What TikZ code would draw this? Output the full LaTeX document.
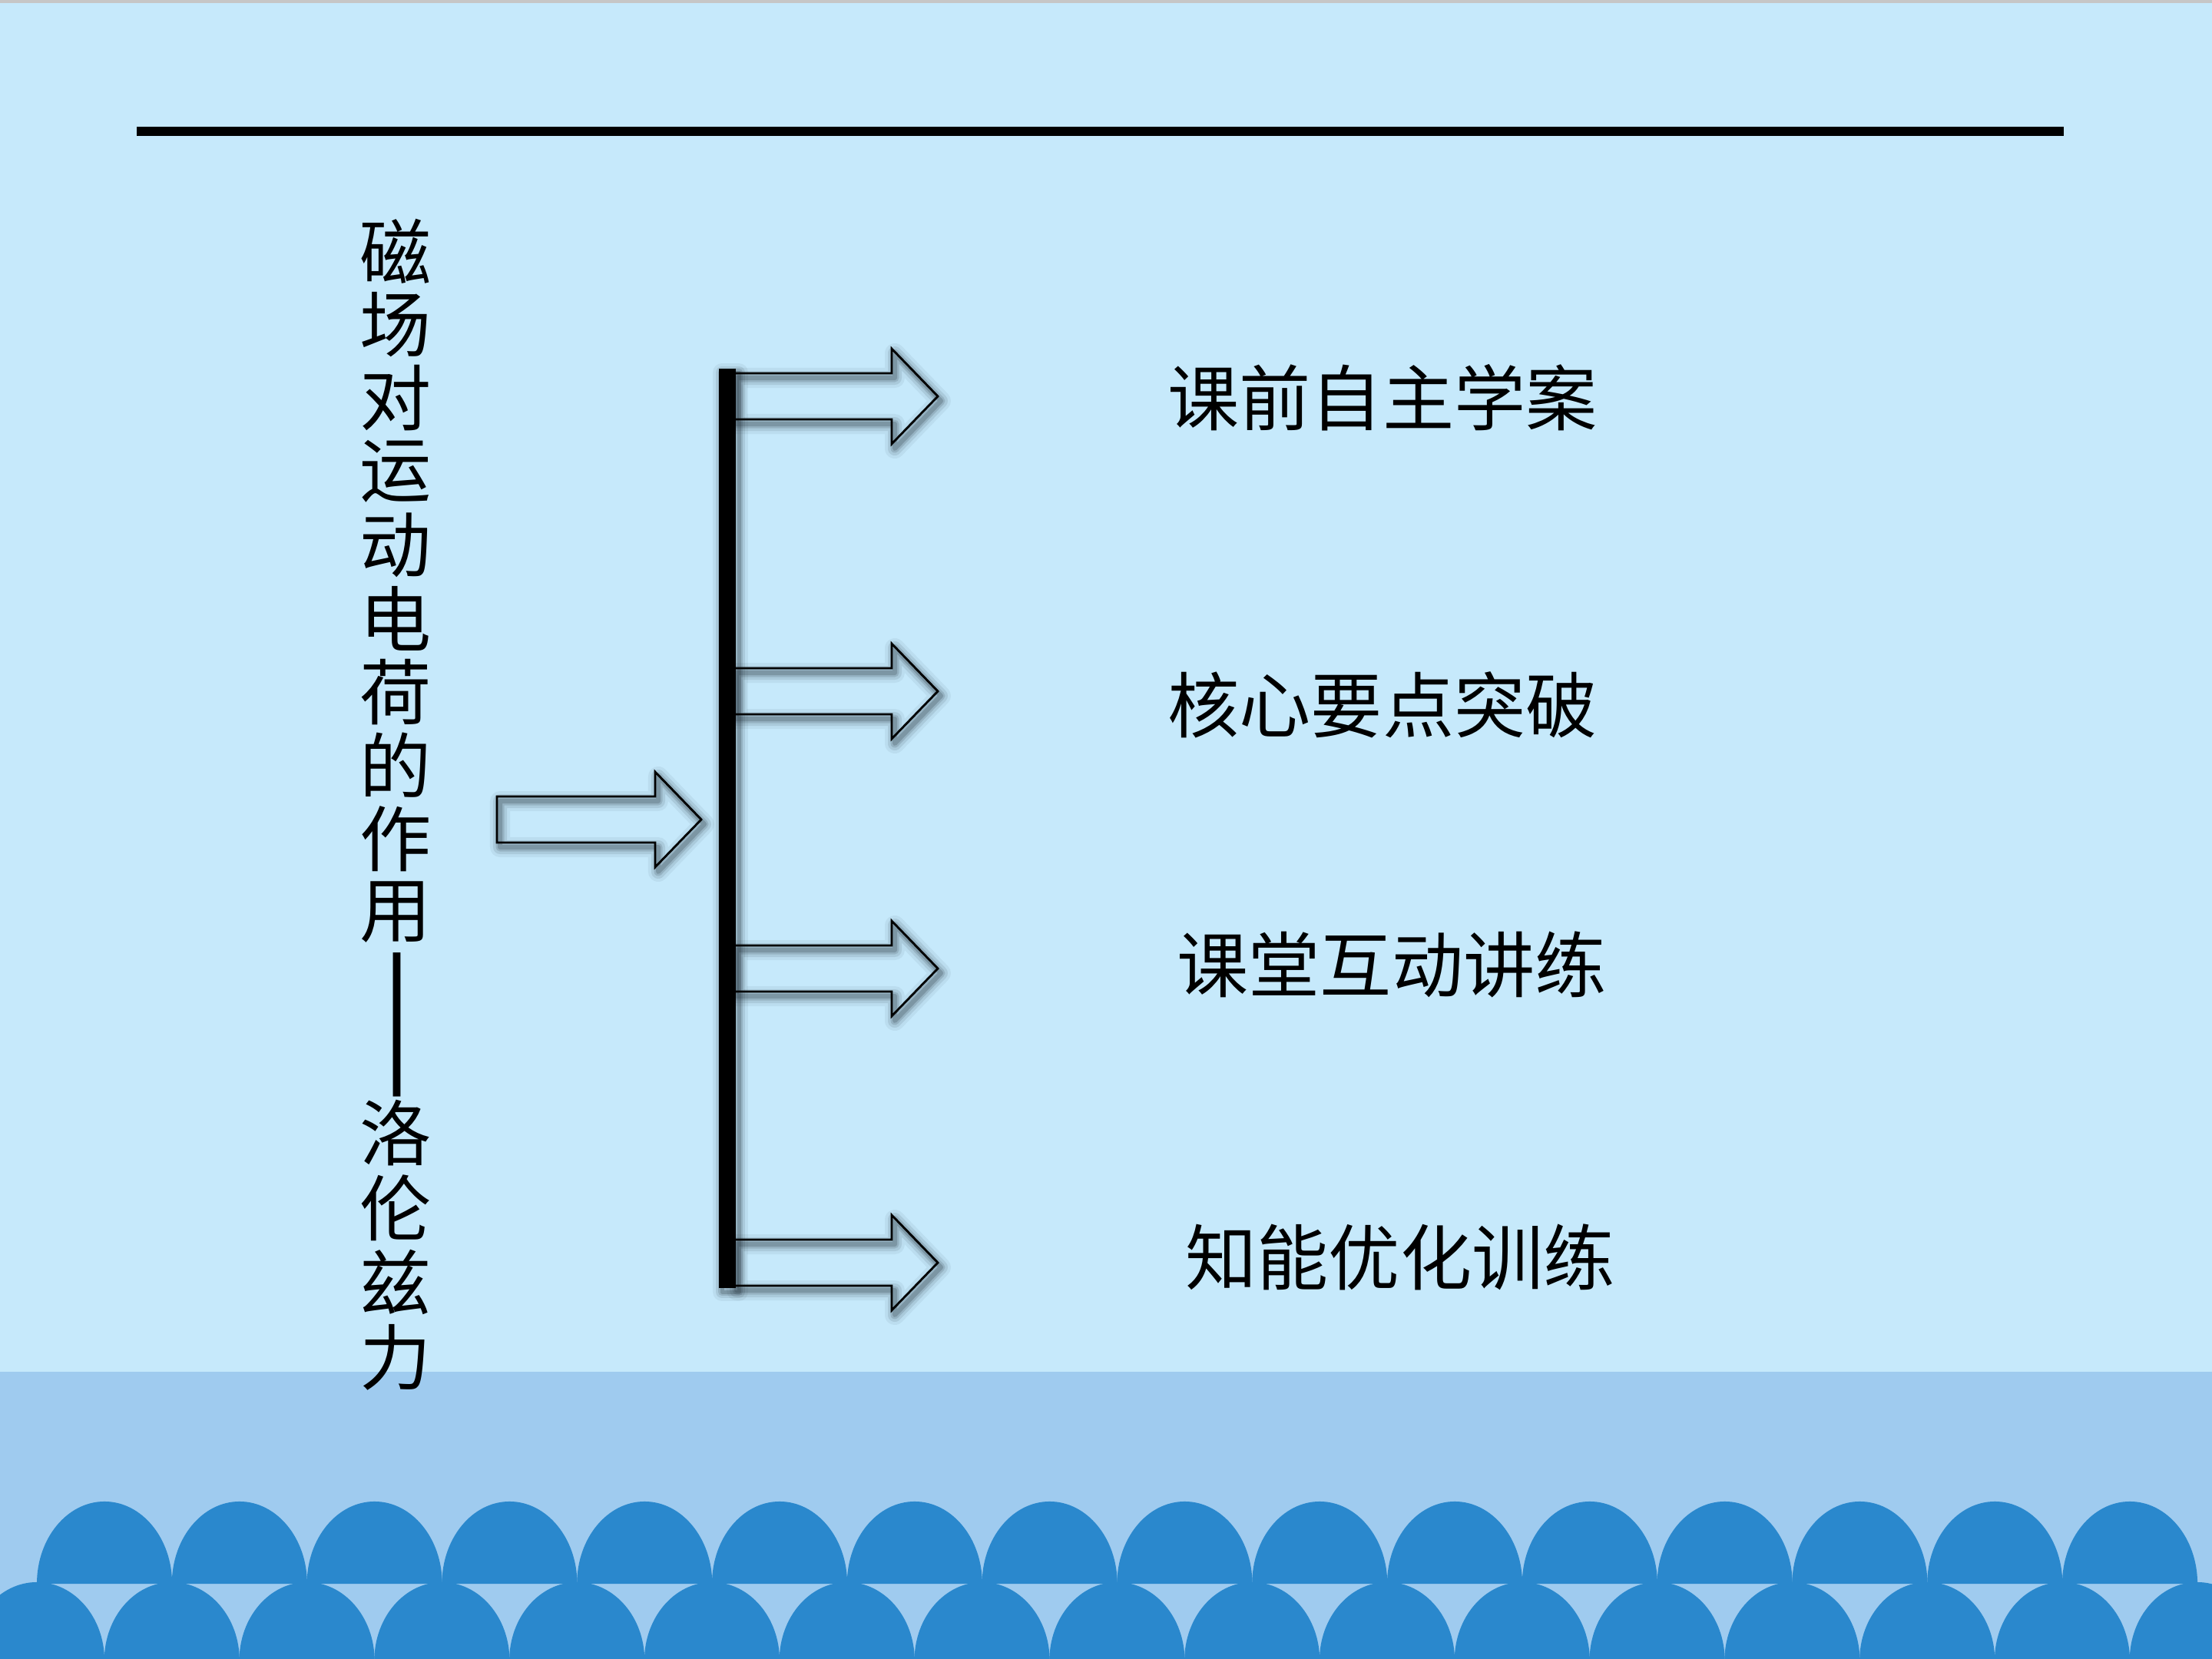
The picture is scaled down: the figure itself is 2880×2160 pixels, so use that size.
\documentclass[tikz,border=0pt]{standalone}
\usepackage{fontspec}
\newfontfamily\cjk{Noto Sans CJK SC}
\definecolor{bgc}{HTML}{C6E9FB}
\definecolor{bandc}{HTML}{9FCBEF}
\definecolor{domec}{HTML}{2A88CD}
\definecolor{shadowc}{HTML}{1A2630}
\tikzset{
  titlec/.style={inner sep=0pt, outer sep=0pt, font=\cjk\fontsize{26.5pt}{27pt}\selectfont},
  labelc/.style={inner sep=0pt, outer sep=0pt, font=\cjk\fontsize{26.5pt}{27pt}\selectfont},
  barstyle/.style={fill=black, draw=none, inner sep=0pt, outer sep=0pt, minimum width=0.22cm, minimum height=11.97cm},
  softshadow/.style={draw=shadowc, line join=round},
  pics/blockarrow/.style={code={
    \foreach \lw/\op in {2.6mm/0.06,1.8mm/0.1,1.1mm/0.14,0.6mm/0.2}{
      \draw[softshadow, line width=\lw, opacity=\op, shift={(4,6)}]
        (0,-30) -- (206,-30) -- (206,-62) -- (266,0) -- (206,62) -- (206,30) -- (0,30) -- cycle;
    }
    \draw[black, line width=0.8pt, line join=miter]
      (0,-30) -- (206,-30) -- (206,-62) -- (266,0) -- (206,62) -- (206,30) -- (0,30) -- cycle;
    \coordinate (-tail) at (0,0);
    \coordinate (-tip) at (266,0);
  }}
}
\begin{document}
\begin{tikzpicture}[x=0.01cm, y=-0.01cm]
\useasboundingbox (0,0) rectangle (2880,2160);
% background
\fill[bgc] (0,0) rectangle (2880,2160);
\fill[gray!45] (0,0) rectangle (2880,4);
\fill[bandc] (0,1786) rectangle (2880,2160);
\begin{scope}
  \clip (0,0) rectangle (2880,2160);
  \foreach \i in {0,...,15} {
    \fill[domec] ({136+175.8*\i-88},2062) arc[start angle=180, end angle=0, x radius=0.88cm, y radius=1.07cm] -- cycle;
  }
  \foreach \i in {0,...,16} {
    \fill[domec] ({48+175.8*\i},2162) ellipse [x radius=0.88cm, y radius=1.02cm];
  }
\end{scope}
% top rule
\draw[line width=0.12cm] (178,171) -- (2687,171);
% vertical title
\foreach \c [count=\k] in {磁,场,对,运,动,电,荷,的,作,用} {
  \node[titlec] (t\k) at (515,{327+95.6*(\k-1)}) {\c};
}
\node[titlec, rotate=90] (tdash) at (537,1334) {\scalebox{1.27}[1.7]{——}};
\foreach \c [count=\k] in {洛,伦,兹,力} {
  \node[titlec] (u\k) at (515,{1475+97.3*(\k-1)}) {\c};
}
% bar shadow
\foreach \lw/\op in {2.4mm/0.06,1.6mm/0.1,1.0mm/0.14,0.5mm/0.2}{
  \draw[softshadow, line width=\lw, opacity=\op, shift={(4,5)}] (936,480) rectangle (958,1677);
}
% arrows
\pic (a0) at (647,1067) {blockarrow};
\pic (a1) at (955,516) {blockarrow};
\pic (a2) at (955,900) {blockarrow};
\pic (a3) at (955,1261) {blockarrow};
\pic (a4) at (955,1644) {blockarrow};
% bar
\node[barstyle] (bar) at (947,1078.5) {};
% labels
\node[labelc] (l1) at (1800,518) {课前自主学案};
\node[labelc] (l2) at (1800,918) {核心要点突破};
\node[labelc] (l3) at (1812,1256) {课堂互动讲练};
\node[labelc] (l4) at (1823,1637) {知能优化训练};
\end{tikzpicture}
\end{document}
